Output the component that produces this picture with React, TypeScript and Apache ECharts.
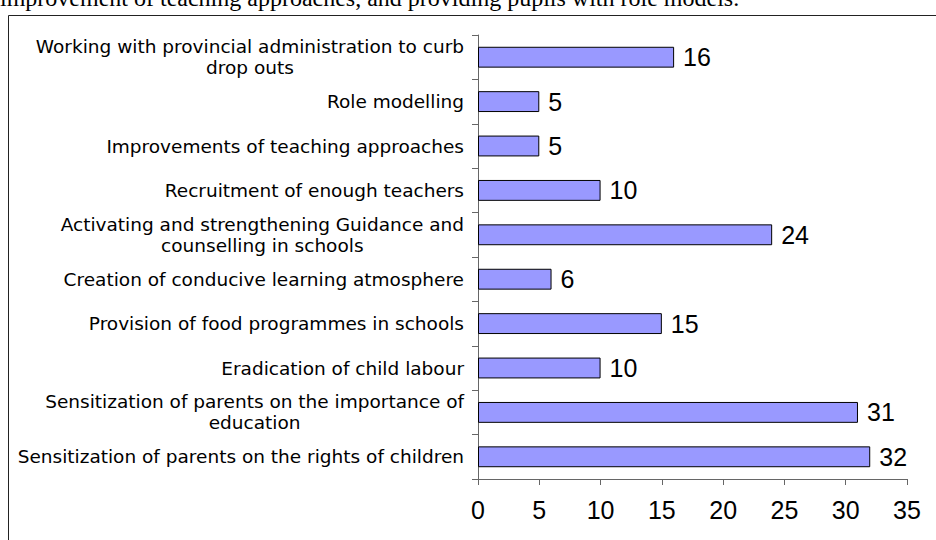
import React, { useEffect, useRef } from "react";
import * as echarts from "echarts";

const categories: string[] = [
  "Sensitization of parents on the rights of children",
  "Sensitization of parents on the importance of\neducation",
  "Eradication of child labour",
  "Provision of food programmes in schools",
  "Creation of conducive learning atmosphere",
  "Activating and strengthening Guidance and\ncounselling in schools",
  "Recruitment of enough teachers",
  "Improvements of teaching approaches",
  "Role modelling",
  "Working with provincial administration to curb\ndrop outs",
];
const values: number[] = [32, 31, 10, 15, 6, 24, 10, 5, 5, 16];
const xTicks: number[] = [0, 5, 10, 15, 20, 25, 30, 35];
const headerText =
  "improvement of teaching approaches, and providing pupils with role models.";

const SANS = "'Liberation Sans', Arial, Helvetica, sans-serif";
const WIDE_SANS = "'DejaVu Sans', 'Liberation Sans', Arial, sans-serif";
const SERIF = "'Liberation Serif', 'Times New Roman', serif";

export default function App() {
  const ref = useRef<HTMLDivElement>(null);
  useEffect(() => {
    if (!ref.current) return;
    const chart = echarts.init(ref.current, undefined, { renderer: "svg" });
    chart.setOption({
      animation: false,
      backgroundColor: "#ffffff",
      graphic: [
        {
          type: "text",
          left: 0,
          top: -14,
          style: {
            text: headerText,
            font: `24px ${SERIF}`,
            fill: "#000",
          },
        },
        {
          type: "rect",
          shape: { x: 8.5, y: 15.5, width: 1000, height: 1000 },
          style: { fill: "none", stroke: "#222", lineWidth: 1 },
          z: -1,
        },
      ],
      grid: { left: 478, right: 29, top: 35, bottom: 61, containLabel: false },
      xAxis: {
        type: "value",
        min: xTicks[0],
        max: xTicks[xTicks.length - 1],
        interval: 5,
        splitLine: { show: false },
        axisLine: { show: true, lineStyle: { color: "#666", width: 1 } },
        axisTick: { show: true, length: 6, lineStyle: { color: "#666" } },
        axisLabel: {
          fontSize: 25,
          fontFamily: SANS,
          color: "#000",
          margin: 18,
        },
      },
      yAxis: {
        type: "category",
        data: categories,
        axisLine: { show: true, lineStyle: { color: "#666", width: 1 } },
        axisTick: { show: true, length: 6, lineStyle: { color: "#666" } },
        axisLabel: {
          margin: 14,
          align: "right",
          formatter: (v: string) =>
            v
              .split("\n")
              .map((l) => `{c|${l}}`)
              .join("\n"),
          rich: {
            c: {
              align: "center",
              fontSize: 18.5,
              fontFamily: WIDE_SANS,
              color: "#000",
              lineHeight: 21,
            },
          },
        },
      },
      series: [
        {
          type: "bar",
          data: values,
          barWidth: "47%",
          itemStyle: { color: "#9999FF", borderColor: "#000", borderWidth: 1 },
          label: {
            show: true,
            position: "right",
            distance: 9,
            fontSize: 25,
            fontFamily: SANS,
            color: "#000",
          },
        },
      ],
    });
    return () => chart.dispose();
  }, []);
  return (
    <div
      ref={ref}
      style={{ position: "absolute", left: 0, top: 0, width: 936, height: 540 }}
    />
  );
}
